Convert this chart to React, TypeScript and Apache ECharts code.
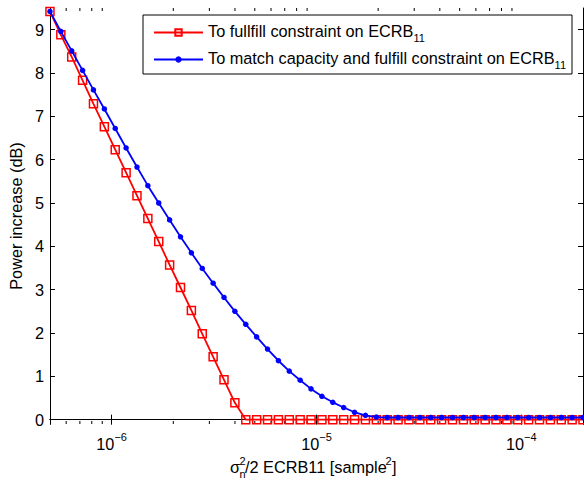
import React, { useEffect, useRef } from "react";
import * as echarts from "echarts";

// x values (sigma_n^2 / 2 ECRB11), log-spaced sample points
const xValues = [
  5.0e-7, 5.65e-7, 6.385e-7, 7.216e-7, 8.154e-7, 9.215e-7, 1.0413e-6, 1.1768e-6, 1.3298e-6, 1.5028e-6,
  1.6983e-6, 1.9192e-6, 2.1688e-6, 2.4509e-6, 2.7697e-6, 3.13e-6, 3.5371e-6, 3.9972e-6, 4.5172e-6, 5.1047e-6,
  5.7687e-6, 6.519e-6, 7.367e-6, 8.3252e-6, 9.4081e-6, 1.0632e-5, 1.2015e-5, 1.3578e-5, 1.5344e-5, 1.734e-5,
  1.9595e-5, 2.2144e-5, 2.5024e-5, 2.8279e-5, 3.1957e-5, 3.6114e-5, 4.0812e-5, 4.612e-5, 5.2119e-5, 5.8899e-5,
  6.656e-5, 7.5217e-5, 8.5001e-5, 9.6057e-5, 1.0855e-4, 1.2267e-4, 1.3863e-4, 1.5666e-4, 1.7704e-4, 2.0e-4,
];

// "To fullfill constraint on ECRB11"
const redValues = [
  9.42, 8.88, 8.37, 7.83, 7.29, 6.76, 6.23, 5.7, 5.17, 4.64,
  4.11, 3.57, 3.05, 2.52, 1.98, 1.45, 0.92, 0.39, 0, 0,
  0, 0, 0, 0, 0, 0, 0, 0, 0, 0,
  0, 0, 0, 0, 0, 0, 0, 0, 0, 0,
  0, 0, 0, 0, 0, 0, 0, 0, 0, 0,
];

// "To match capacity and fulfill constraint on ECRB11"
const blueValues = [
  9.42, 8.96, 8.51, 8.06, 7.61, 7.17, 6.72, 6.27, 5.83, 5.4,
  5.0, 4.61, 4.22, 3.85, 3.49, 3.15, 2.82, 2.5, 2.2, 1.91,
  1.63, 1.36, 1.12, 0.91, 0.71, 0.54, 0.4, 0.28, 0.17, 0.1,
  0.06, 0.05, 0.05, 0.05, 0.05, 0.05, 0.05, 0.05, 0.05, 0.05,
  0.05, 0.05, 0.05, 0.05, 0.05, 0.05, 0.05, 0.05, 0.05, 0.05,
];

const seriesNames = [
  "To fullfill constraint on ECRB",
  "To match capacity and fulfill constraint on ECRB",
];

const yTicks = [0, 1, 2, 3, 4, 5, 6, 7, 8, 9];
const xMinorTicks = [
  6e-7, 7e-7, 8e-7, 9e-7,
  2e-6, 3e-6, 4e-6, 5e-6, 6e-6, 7e-6, 8e-6, 9e-6,
  2e-5, 3e-5, 4e-5, 5e-5, 6e-5, 7e-5, 8e-5, 9e-5,
];

const X_MIN = 5e-7;
const X_MAX = 2e-4;
const Y_MIN = -0.1;
const Y_MAX = 9.5;

const FONT = "'Liberation Sans', Arial, Helvetica, sans-serif";
const FS = 16.3;

export default function App() {
  const ref = useRef<HTMLDivElement>(null);

  useEffect(() => {
    if (!ref.current) return;
    const chart = echarts.init(ref.current, undefined, { renderer: "svg" });

    const axisLineStyle = { color: "#000", width: 1 };
    const tickRich = {
      b: { fontSize: FS, lineHeight: 16, fontFamily: FONT, color: "#000" },
      sup: { fontSize: 11, lineHeight: 11, padding: [0, 0, 14, 0], fontFamily: FONT, color: "#000" },
    };

    const option: any = {
      animation: false,
      backgroundColor: "#fff",
      textStyle: { fontFamily: FONT },
      grid: { left: 49, right: 1, top: 8, bottom: 57, containLabel: false },
      legend: {
        data: seriesNames,
        left: 143,
        top: 15,
        orient: "vertical",
        padding: [7, 6, 4, 10],
        itemGap: 6,
        itemWidth: 49,
        itemHeight: 8,
        borderColor: "#000",
        borderWidth: 1,
        borderRadius: 0,
        backgroundColor: "#fff",
        selectedMode: false,
        formatter: (n: string) => `{b|${n}}{sub|11}`,
        textStyle: {
          color: "#000",
          fontFamily: FONT,
          fontSize: FS,
          rich: {
            b: { fontSize: FS, lineHeight: 16, padding: [0, 0, 4, 0], fontFamily: FONT, color: "#000" },
            sub: { fontSize: 11, lineHeight: 12, padding: [10, 0, 0, 0], fontFamily: FONT, color: "#000" },
          },
        },
      },
      xAxis: [
        {
          type: "log",
          logBase: 10,
          min: X_MIN,
          max: X_MAX,
          position: "bottom",
          axisLine: { show: true, lineStyle: axisLineStyle },
          axisTick: { show: true, inside: true, length: 5, lineStyle: axisLineStyle },
          axisLabel: {
            showMinLabel: false,
            showMaxLabel: false,
            margin: 12,
            formatter: (v: number) => {
              const e = Math.round(Math.log10(v));
              return `{b|10}{sup|${e < 0 ? "−" : ""}${Math.abs(e)}}`;
            },
            rich: tickRich,
          },
          splitLine: { show: false },
        },
        {
          type: "log",
          logBase: 10,
          min: X_MIN,
          max: X_MAX,
          position: "top",
          axisLine: { show: true, lineStyle: axisLineStyle },
          axisTick: { show: true, inside: true, length: 5, lineStyle: axisLineStyle },
          axisLabel: { show: false },
          splitLine: { show: false },
        },
      ],
      yAxis: [
        {
          type: "value",
          min: Y_MIN,
          max: Y_MAX,
          position: "left",
          name: "Power increase (dB)",
          nameLocation: "middle",
          nameGap: 23,
          nameTextStyle: { fontSize: FS, color: "#000", fontFamily: FONT },
          axisLine: { show: true, lineStyle: axisLineStyle },
          axisTick: { show: true, inside: true, length: 5, lineStyle: axisLineStyle, customValues: yTicks },
          axisLabel: { fontSize: FS, color: "#000", margin: 6, fontFamily: FONT, customValues: yTicks },
          splitLine: { show: false },
        },
        {
          type: "value",
          min: Y_MIN,
          max: Y_MAX,
          position: "right",
          axisLine: { show: true, lineStyle: axisLineStyle },
          axisTick: { show: true, inside: true, length: 5, lineStyle: axisLineStyle, customValues: yTicks },
          axisLabel: { show: false, customValues: yTicks },
          splitLine: { show: false },
        },
      ],
      series: [
        {
          name: seriesNames[0],
          type: "line",
          xAxisIndex: 0,
          yAxisIndex: 0,
          data: xValues.map((x, i) => [x, redValues[i]]),
          symbol: "rect",
          symbolSize: 8,
          showSymbol: true,
          lineStyle: { color: "#ff0000", width: 1.8 },
          itemStyle: { color: "rgba(255,255,255,0)", borderColor: "#ff0000", borderWidth: 1.5 },
          z: 3,
        },
        {
          name: seriesNames[1],
          type: "line",
          xAxisIndex: 0,
          yAxisIndex: 0,
          data: xValues.map((x, i) => [x, blueValues[i]]),
          symbol: "circle",
          symbolSize: 5.5,
          showSymbol: true,
          lineStyle: { color: "#0000ff", width: 1.8 },
          itemStyle: { color: "#0000ff" },
          z: 4,
        },
        {
          name: "minorTicks",
          type: "custom",
          xAxisIndex: 0,
          yAxisIndex: 0,
          silent: true,
          clip: false,
          data: xMinorTicks.map((v) => [v, Y_MIN]),
          renderItem: (_params: any, api: any) => {
            const v = api.value(0);
            const b = api.coord([v, Y_MIN]);
            const t = api.coord([v, Y_MAX]);
            const st = { stroke: "#000", lineWidth: 1 };
            return {
              type: "group",
              children: [
                { type: "line", shape: { x1: b[0], y1: b[1], x2: b[0], y2: b[1] - 3 }, style: st },
                { type: "line", shape: { x1: t[0], y1: t[1], x2: t[0], y2: t[1] + 3 }, style: st },
              ],
            };
          },
          z: 1,
        },
      ],
      graphic: [
        { type: "text", x: 230, y: 467, style: { text: "σ", fontSize: FS, fontFamily: FONT, fill: "#000", verticalAlign: "middle" } },
        { type: "text", x: 239.5, y: 461, style: { text: "2", fontSize: 11, fontFamily: FONT, fill: "#000", verticalAlign: "middle" } },
        { type: "text", x: 239.5, y: 474, style: { text: "n", fontSize: 11, fontFamily: FONT, fill: "#000", verticalAlign: "middle" } },
        { type: "text", x: 245, y: 467, style: { text: "/2 ECRB11 [sample", fontSize: FS, fontFamily: FONT, fill: "#000", verticalAlign: "middle" } },
        { type: "text", x: 385.5, y: 461, style: { text: "2", fontSize: 11, fontFamily: FONT, fill: "#000", verticalAlign: "middle" } },
        { type: "text", x: 392, y: 467, style: { text: "]", fontSize: FS, fontFamily: FONT, fill: "#000", verticalAlign: "middle" } },
      ],
    };

    chart.setOption(option);
    return () => chart.dispose();
  }, []);

  return (
    <div
      ref={ref}
      style={{ position: "fixed", left: 0, top: 0, width: 584, height: 481, background: "#fff" }}
    />
  );
}
